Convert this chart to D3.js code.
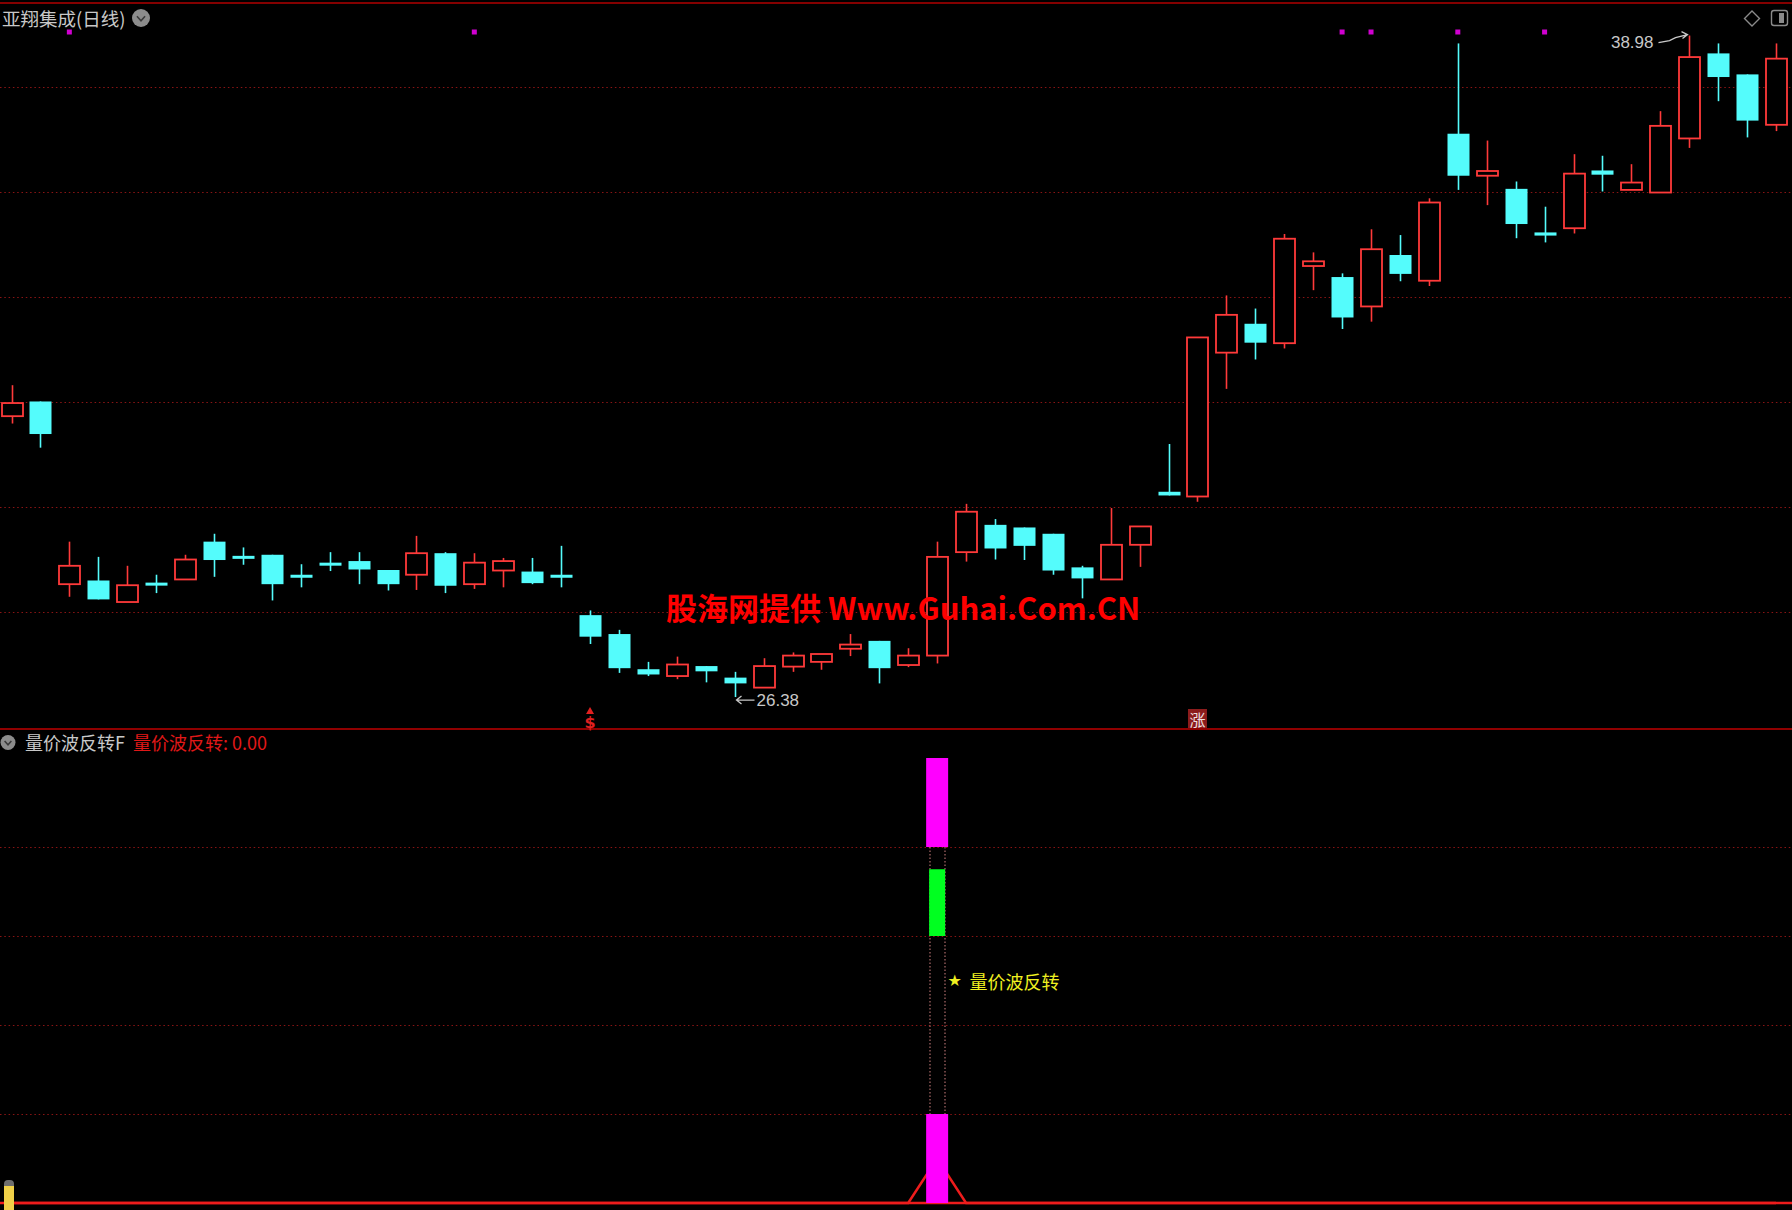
<!DOCTYPE html>
<html><head><meta charset="utf-8">
<script src="https://cdn.jsdelivr.net/npm/d3@7"></script>
<style>html,body{margin:0;padding:0;background:#000;overflow:hidden}</style>
</head><body>
<svg id="c" width="1792" height="1210"></svg>
<script>
// ---- data ----
const opens  = [31.73,32.01,28.53,28.60,28.19,28.55,28.62,29.34,29.06,29.09,28.70,28.93,28.97,28.80,28.71,29.12,28.53,28.79,28.77,28.70,
                27.94,27.58,26.91,26.78,26.97,26.75,26.56,26.96,27.05,27.30,27.45,26.99,27.17,29.14,29.66,29.61,29.49,28.85,28.62,29.28,
                30.29,30.20,32.94,33.49,33.12,34.59,34.38,33.82,34.80,34.31,37.11,36.31,36.06,35.23,35.31,36.41,36.04,35.99,37.02,38.64,38.24,37.28];
const highs  = [32.32,32.01,29.34,29.05,28.88,28.71,29.09,29.49,29.23,29.09,28.91,29.14,29.14,28.80,29.45,29.14,29.12,29.03,29.03,29.26,
                28.03,27.66,27.05,27.15,26.97,26.86,27.12,27.23,27.20,27.58,27.45,27.31,29.34,30.06,29.77,29.61,29.49,28.88,29.98,29.63,
                31.20,33.23,34.03,33.78,35.20,34.85,34.45,35.29,35.18,35.88,38.83,36.98,36.20,35.72,36.72,36.69,36.53,37.54,38.98,38.83,38.24,38.83];
const lows   = [31.59,31.13,28.29,28.24,28.19,28.36,28.62,28.67,28.90,28.22,28.47,28.78,28.53,28.41,28.42,28.36,28.44,28.47,28.53,28.47,
                27.39,26.84,26.78,26.72,26.66,26.38,26.56,26.86,26.90,27.16,26.64,26.95,27.02,28.96,29.00,28.99,28.71,28.26,28.62,28.86,
                30.22,30.10,32.25,32.81,33.02,34.13,33.39,33.53,34.30,34.21,36.04,35.75,35.12,35.04,35.21,36.01,36.04,35.99,36.84,37.73,37.04,37.16];
const closes = [31.98,31.39,28.88,28.24,28.51,28.54,29.00,28.99,29.05,28.53,28.69,28.92,28.81,28.53,29.12,28.50,28.94,28.97,28.55,28.69,
                27.53,26.93,26.81,27.00,26.87,26.64,26.97,27.17,27.20,27.38,26.93,27.17,29.05,29.91,29.21,29.26,28.79,28.64,29.28,29.63,
                30.22,33.23,33.66,33.13,35.11,34.68,33.61,34.91,34.44,35.80,36.31,36.40,35.39,35.17,36.35,36.33,36.18,37.26,38.57,38.19,37.36,38.54];
const priceGridValues = [28,30,32,34,36,38];
const dotDays = [2,16,46,47,50,53];
const lowDay = 25, lowLabel = "26.38";
const highDay = 58, highLabel = "38.98";
const sMarkDay = 20, zhangDay = 41;
const signalDay = 32;
const subGridValues = [1,2,3,4];
const signalLine = closes.map((_, i) => i === 32 ? 0.5 : 0);
const stickTop = [4, 5];
const stickMid = [3, 3.75];
const stickBot = [0, 1];
const starLevel = 2.5;
const stockTitle = "亚翔集成(日线)";
const indTitle = "量价波反转F";
const indValue = "量价波反转: 0.00";
const starText = "量价波反转";
const watermark = "股海网提供 Www.Guhai.Com.CN";

// ---- drawing ----
const W = 1792, H = 1210;
const RED = "#ff3a3a", CYAN = "#54fcfc";
const CJK = "'Noto Sans CJK SC','Noto Sans',sans-serif";
const svg = d3.select("#c");
svg.append("rect").attr("width", W).attr("height", H).attr("fill", "#000");

const x = d3.scaleLinear().domain([0, closes.length - 1]).range([11.5, 1776]);
const y = d3.scaleLinear().domain([28, 38]).range([612, 87]);
const ys = d3.scaleLinear().domain([0, 5]).range([1203, 758]);
const bw = 21;

// frame lines
svg.append("line").attr("x1", 0).attr("x2", W).attr("y1", 3).attr("y2", 3).attr("stroke", "#b00000").attr("stroke-width", 1.5);
svg.append("line").attr("x1", 0).attr("x2", W).attr("y1", 729).attr("y2", 729).attr("stroke", "#c00000").attr("stroke-width", 1.5);

// grids
const grid = svg.append("g").attr("stroke", "#8a1414").attr("stroke-width", 1.2).attr("stroke-dasharray", "1.5,2.8");
grid.selectAll("line.p").data(priceGridValues).join("line").attr("class", "p")
  .attr("x1", 0).attr("x2", W).attr("y1", d => Math.round(y(d)) + 0.5).attr("y2", d => Math.round(y(d)) + 0.5);
grid.selectAll("line.s").data(subGridValues).join("line").attr("class", "s")
  .attr("x1", 0).attr("x2", W).attr("y1", d => Math.round(ys(d)) + 0.5).attr("y2", d => Math.round(ys(d)) + 0.5);

// candles
const data = closes.map((c, i) => ({i, o: opens[i], h: highs[i], l: lows[i], c}));
const cg = svg.append("g");
data.forEach(d => {
  const cx = Math.round(x(d.i)) + 0.5;
  const up = d.c >= d.o;
  const top = y(Math.max(d.o, d.c)), bot = y(Math.min(d.o, d.c));
  let hgt = Math.max(bot - top, 2.5);
  if (up) {
    cg.append("line").attr("x1", cx).attr("x2", cx).attr("y1", y(d.h)).attr("y2", top).attr("stroke", RED).attr("stroke-width", 1.6);
    cg.append("line").attr("x1", cx).attr("x2", cx).attr("y1", top + hgt).attr("y2", Math.max(y(d.l), top + hgt)).attr("stroke", RED).attr("stroke-width", 1.6);
    cg.append("rect").attr("x", cx - bw / 2).attr("y", top).attr("width", bw).attr("height", hgt)
      .attr("fill", "#000").attr("stroke", RED).attr("stroke-width", 1.8);
  } else {
    cg.append("line").attr("x1", cx).attr("x2", cx).attr("y1", y(d.h)).attr("y2", y(d.l)).attr("stroke", CYAN).attr("stroke-width", 1.6);
    cg.append("rect").attr("x", cx - bw / 2 - 0.5).attr("y", top - (hgt > 3 ? 0 : 0.5)).attr("width", bw + 1).attr("height", Math.max(hgt, 3))
      .attr("fill", CYAN);
  }
});

// magenta dots
svg.selectAll("rect.dot").data(dotDays).join("rect").attr("class", "dot")
  .attr("x", d => x(d) - 2.5).attr("y", 29.5).attr("width", 5).attr("height", 5).attr("fill", "#d000d0");

// low / high annotations
const annC = "#c8c8c8";
{
  const lx = Math.round(x(lowDay)) + 0.5, ly = y(lows[lowDay]) + 3;
  svg.append("path").attr("d", `M${lx + 19},${ly} L${lx + 1},${ly} M${lx + 6},${ly - 4} L${lx + 1},${ly} L${lx + 6},${ly + 4}`)
    .attr("stroke", annC).attr("stroke-width", 1.3).attr("fill", "none");
  svg.append("text").attr("x", lx + 21).attr("y", ly).attr("dominant-baseline", "central")
    .attr("font-family", "'Liberation Sans',Arial,sans-serif").attr("font-size", 17).attr("fill", annC).text(lowLabel);
}
{
  const hx = Math.round(x(highDay)) + 0.5, hy = y(highs[highDay]);
  svg.append("path").attr("d", `M${hx - 31},${hy + 7} L${hx - 20},${hy + 5} L${hx - 14},${hy + 2} L${hx - 2},${hy - 1} M${hx - 8},${hy - 4} L${hx - 2},${hy - 1} L${hx - 7},${hy + 3}`)
    .attr("stroke", annC).attr("stroke-width", 1.3).attr("fill", "none");
  svg.append("text").attr("x", hx - 36).attr("y", hy + 7).attr("text-anchor", "end").attr("dominant-baseline", "central")
    .attr("font-family", "'Liberation Sans',Arial,sans-serif").attr("font-size", 17).attr("fill", annC).text(highLabel);
}

// $ marker and 涨 marker
{
  const sx = x(sMarkDay);
  svg.append("path").attr("d", `M${sx},${707} L${sx - 4},${714} L${sx + 4},${714} Z`).attr("fill", "#e02020");
  svg.append("text").attr("x", sx).attr("y", 728).attr("text-anchor", "middle")
    .attr("font-family", "'DejaVu Sans',sans-serif").attr("font-weight", "bold").attr("font-size", 16).attr("fill", "#e02020").text("$");
  const zx = x(zhangDay);
  svg.append("rect").attr("x", zx - 9.5).attr("y", 709).attr("width", 19).attr("height", 19).attr("fill", "#8c1c1c");
  svg.append("text").attr("x", zx).attr("y", 718.5).attr("text-anchor", "middle").attr("dominant-baseline", "central")
    .attr("font-family", CJK).attr("font-size", 16).attr("fill", "#f0e0e0").text("涨");
}

// watermark
svg.append("text").attr("x", 666).attr("y", 606).attr("dominant-baseline", "central")
  .attr("font-family", CJK).attr("font-weight", "bold").attr("font-size", 31).attr("fill", "#ff0000").text(watermark);

// titles
function chevronBadge(cx, cy, r) {
  svg.append("circle").attr("cx", cx).attr("cy", cy).attr("r", r).attr("fill", "#8c8c8c");
  svg.append("path").attr("d", `M${cx - r * 0.45},${cy - r * 0.2} L${cx},${cy + r * 0.3} L${cx + r * 0.45},${cy - r * 0.2}`)
    .attr("stroke", "#3a3a3a").attr("stroke-width", 1.6).attr("fill", "none");
}
svg.append("text").attr("x", 2).attr("y", 18).attr("dominant-baseline", "central")
  .attr("font-family", CJK).attr("font-size", 18.5).attr("fill", "#c8c8c8").text(stockTitle);
chevronBadge(141, 18, 9);
chevronBadge(8, 742.5, 7.5);
svg.append("text").attr("x", 25).attr("y", 742).attr("dominant-baseline", "central")
  .attr("font-family", CJK).attr("font-size", 18).attr("fill", "#c8c8c8").text(indTitle);
svg.append("text").attr("x", 133).attr("y", 742).attr("dominant-baseline", "central")
  .attr("font-family", CJK).attr("font-size", 18).attr("fill", "#e01818").text(indValue);

// top-right icons
svg.append("path").attr("d", "M1752,11 L1759.5,18.5 L1752,26 L1744.5,18.5 Z").attr("fill", "none").attr("stroke", "#8a8a8a").attr("stroke-width", 1.4);
svg.append("rect").attr("x", 1771.5).attr("y", 10.5).attr("width", 16).attr("height", 15).attr("rx", 2.5)
  .attr("fill", "none").attr("stroke", "#8a8a8a").attr("stroke-width", 1.4);
svg.append("rect").attr("x", 1779).attr("y", 13).attr("width", 5).attr("height", 10).attr("fill", "#8a8a8a");

// ---- sub panel ----
const sx = Math.round(x(signalDay)) + 0.5;
svg.append("g").attr("stroke", "#d08080").attr("stroke-width", 1).attr("stroke-dasharray", "1.5,2")
  .selectAll("line").data([-7.5, 7.5]).join("line")
  .attr("x1", d => sx + d).attr("x2", d => sx + d).attr("y1", ys(stickTop[0])).attr("y2", ys(stickBot[1]));
const baseY = ys(0);
svg.append("line").attr("x1", 0).attr("x2", W).attr("y1", baseY).attr("y2", baseY).attr("stroke", "#ee1c1c").attr("stroke-width", 2.5);
svg.append("path").datum(signalLine).attr("fill", "none").attr("stroke", "#ee1c1c").attr("stroke-width", 2.5)
  .attr("d", d3.line().x((d, i) => x(i)).y(d => ys(d)));
const sticks = [{r: stickTop, c: "#ff00ff", w: 22}, {r: stickMid, c: "#00ff20", w: 16}, {r: stickBot, c: "#ff00ff", w: 22}];
svg.selectAll("rect.stk").data(sticks).join("rect").attr("class", "stk")
  .attr("x", d => x(signalDay) - d.w / 2).attr("width", d => d.w)
  .attr("y", d => ys(d.r[1])).attr("height", d => ys(d.r[0]) - ys(d.r[1])).attr("fill", d => d.c);
svg.append("text").attr("x", sx + 10).attr("y", ys(starLevel)).attr("dominant-baseline", "central")
  .attr("font-family", "'DejaVu Sans',sans-serif").attr("font-size", 16).attr("fill", "#f0f020").text("★");
svg.append("text").attr("x", sx + 32).attr("y", ys(starLevel)).attr("dominant-baseline", "central")
  .attr("font-family", CJK).attr("font-size", 18).attr("fill", "#f0f020").text(starText);

// yellow handle bottom-left
svg.append("rect").attr("x", 4).attr("y", 1180).attr("width", 10).attr("height", 30).attr("rx", 4).attr("fill", "#6e6e6e");
svg.append("rect").attr("x", 4).attr("y", 1186).attr("width", 10).attr("height", 24).attr("fill", "#f0d048");
</script>
</body></html>
